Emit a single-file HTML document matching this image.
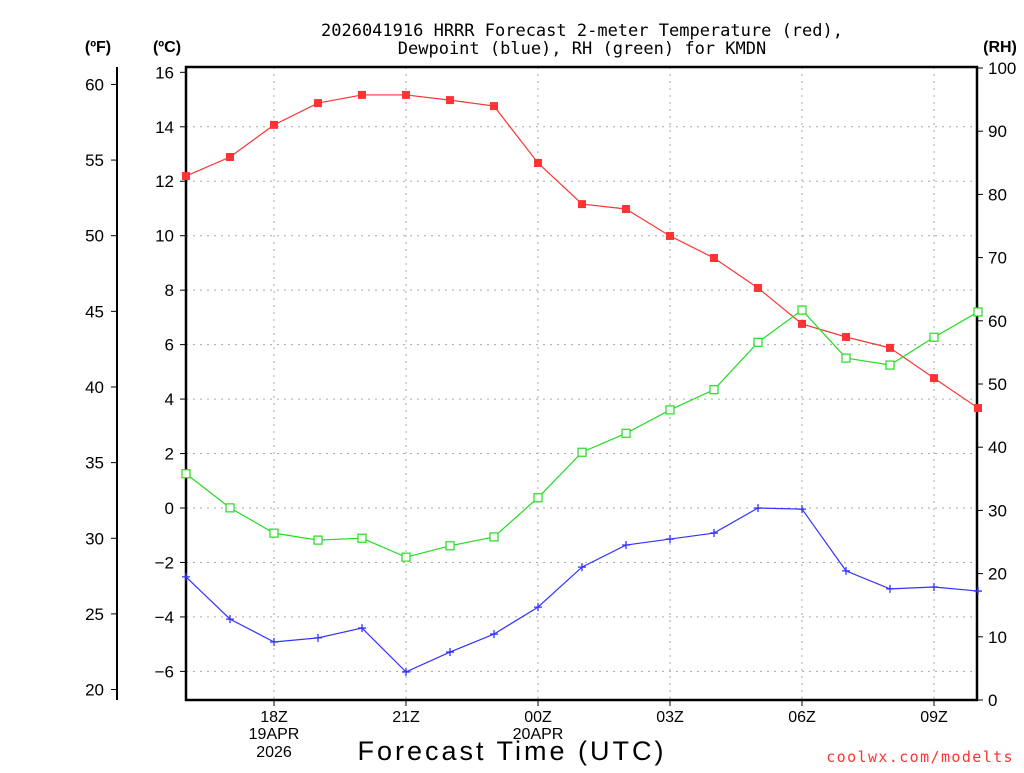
<!DOCTYPE html>
<html><head><meta charset="utf-8"><style>
body{margin:0;background:#fff;}
svg text{font-family:"Liberation Sans",sans-serif;}
svg text.mono{font-family:"DejaVu Sans Mono",monospace;}
</style></head><body>
<svg id="chart" width="1024" height="768" xmlns="http://www.w3.org/2000/svg">
<g id="grid"></g>
<g id="axes"></g>
<g id="series"></g>
<text class="mono" x="582" y="36" text-anchor="middle" font-size="17" fill="#000">2026041916 HRRR Forecast 2-meter Temperature (red),</text>
<text class="mono" x="582" y="54" text-anchor="middle" font-size="17" fill="#000">Dewpoint (blue), RH (green) for KMDN</text>
<text x="98" y="52" text-anchor="middle" font-size="16" font-weight="bold">(ºF)</text>
<text x="167" y="52" text-anchor="middle" font-size="16" font-weight="bold">(ºC)</text>
<text x="1000" y="52" text-anchor="middle" font-size="16" font-weight="bold">(RH)</text>
<text x="512" y="760" text-anchor="middle" font-size="27" letter-spacing="3">Forecast Time (UTC)</text>
<text class="mono" x="1014" y="762" text-anchor="end" font-size="15" fill="#ff3333" letter-spacing="1.4">coolwx.com/modelts</text>
</svg>
<script>
const hours=[16,17,18,19,20,21,22,23,24,25,26,27,28,29,30,31,32,33,34];
const tempC=[12.19,12.89,14.07,14.87,15.17,15.17,14.98,14.76,12.67,11.16,10.98,9.99,9.18,8.08,6.76,6.28,5.88,4.77,3.67];
const dewC=[-2.53,-4.08,-4.92,-4.77,-4.41,-6.02,-5.29,-4.63,-3.64,-2.17,-1.36,-1.14,-0.92,0,-0.04,-2.31,-2.97,-2.90,-3.05];
const rh=[35.8,30.4,26.4,25.3,25.6,22.6,24.4,25.8,32.0,39.2,42.2,45.9,49.1,56.6,61.7,54.1,53.0,57.4,61.4];
const cTicks=[-6,-4,-2,0,2,4,6,8,10,12,14,16];
const fTicks=[20,25,30,35,40,45,50,55,60];
const rhTicks=[0,10,20,30,40,50,60,70,80,90,100];
const xTicks=[18,21,24,27,30,33];
const xLabels=["18Z","21Z","00Z","03Z","06Z","09Z"];
const L=186,R=977,T=67,B=700;
const x=h=>L+(h-16)*44;
const yC=c=>508-c*27.23;
const yF=f=>yC((f-32)*5/9);
const yR=r=>B-r*6.32;
const NS="http://www.w3.org/2000/svg";
function mk(p,t,a){const e=document.createElementNS(NS,t);for(const k in a)e.setAttribute(k,a[k]);p.appendChild(e);return e;}
const g=document.getElementById('grid'),ax=document.getElementById('axes'),s=document.getElementById('series');
cTicks.forEach(c=>{if(c<16){const l=mk(g,'line',{x1:L,x2:R,y1:yC(c),y2:yC(c),stroke:'#aaa','stroke-dasharray':'2,5'});

}
mk(ax,'line',{x1:L-6,x2:L,y1:yC(c),y2:yC(c),stroke:'#000'});
const t=mk(ax,'text',{x:L-12,y:yC(c)+6,'text-anchor':'end','font-size':17});t.textContent=(c<0?'−':'')+Math.abs(c);

});
xTicks.forEach((h,i)=>{const l=mk(g,'line',{x1:x(h),x2:x(h),y1:T,y2:B,stroke:'#aaa','stroke-dasharray':'2,5'});


mk(ax,'line',{x1:x(h),x2:x(h),y1:B,y2:B+6,stroke:'#000'});
const t=mk(ax,'text',{x:x(h),y:B+22,'text-anchor':'middle','font-size':16});t.textContent=xLabels[i];

});
[["19APR",18,739],["2026",18,757],["20APR",24,739]].forEach(d=>{const t=mk(ax,'text',{x:x(d[1]),y:d[2],'text-anchor':'middle','font-size':16});t.textContent=d[0];

});
mk(ax,'line',{x1:117,x2:117,y1:T,y2:B,stroke:'#000','stroke-width':2});
fTicks.forEach(f=>{mk(ax,'line',{x1:111,x2:117,y1:yF(f),y2:yF(f),stroke:'#000'});
const t=mk(ax,'text',{x:104,y:yF(f)+6,'text-anchor':'end','font-size':17});t.textContent=f;

});
rhTicks.forEach(r=>{mk(ax,'line',{x1:R,x2:R+6,y1:yR(r),y2:yR(r),stroke:'#000'});
const t=mk(ax,'text',{x:R+11,y:yR(r)+6,'font-size':17});t.textContent=r;

});
mk(ax,'rect',{x:L,y:T,width:R-L,height:B-T,fill:'none',stroke:'#000','stroke-width':2.5});
function line(vals,fy,col,name){const p=mk(s,'polyline',{points:vals.map((v,i)=>x(hours[i])+','+fy(v)).join(' '),fill:'none',stroke:col,'stroke-width':1.2});

}
line(tempC,yC,'#ff3333','temperature');line(dewC,yC,'#3333ff','dewpoint');line(rh,yR,'#22dd22','rh');
tempC.forEach((v,i)=>{const m=mk(s,'rect',{x:x(hours[i])-4,y:yC(v)-4,width:8,height:8,fill:'#ff3333'});

});
rh.forEach((v,i)=>{const m=mk(s,'rect',{x:x(hours[i])-4,y:yR(v)-4,width:8,height:8,fill:'#fff',stroke:'#22dd22','stroke-width':1.2});

});
dewC.forEach((v,i)=>{const cx=x(hours[i]),cy=yC(v);const m=mk(s,'path',{d:`M${cx-4},${cy}H${cx+4}M${cx},${cy-4}V${cy+4}`,stroke:'#3333ff','stroke-width':1.3});

});
</script>
</body></html>
